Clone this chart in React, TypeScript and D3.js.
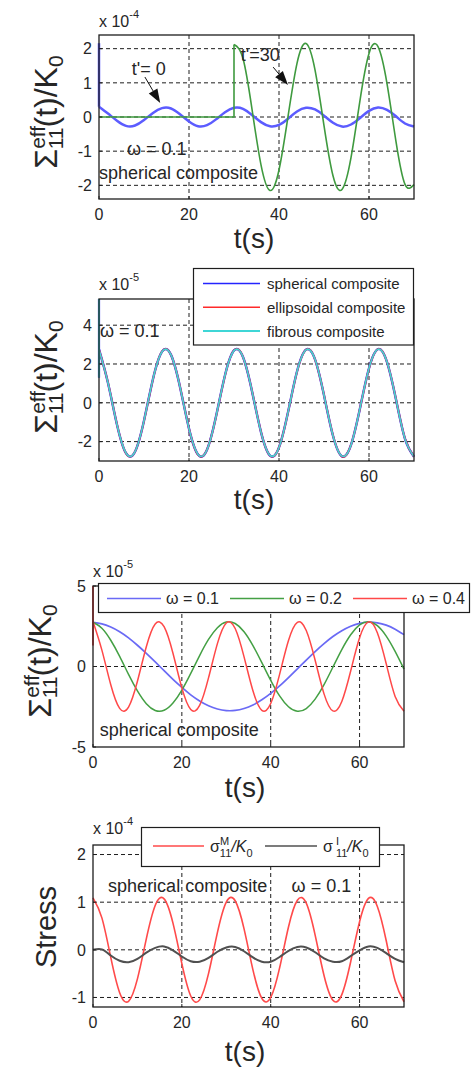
import React from 'react';
import * as d3 from 'd3';

const FONT = "'Liberation Sans', Arial, Helvetica, sans-serif";
const INK = '#262626';

// ---------- data ----------
const tSamples = [0, 2, 4, 6, 8, 10, 12, 14, 16, 18, 20, 22, 24, 26, 28, 30, 32, 34, 36, 38, 40, 42, 44, 46, 48, 50, 52, 54, 56, 58, 60, 62, 64, 66, 68, 70];
const tAfterLoad = [30, 32, 34, 36, 38, 40, 42, 44, 46, 48, 50, 52, 54, 56, 58, 60, 62, 64, 66, 68, 70];
const tSpike = [0, 0];

// Panel 1 (x 1e-4)
const p1LoadT0 = [0.30, 0.10, -0.11, -0.26, -0.25, -0.09, 0.12, 0.26, 0.25, 0.08, -0.13, -0.27, -0.24, -0.07, 0.14, 0.27, 0.24, 0.06, -0.15, -0.27, -0.23, -0.05, 0.16, 0.27, 0.22, 0.04, -0.17, -0.28, -0.22, -0.03, 0.18, 0.28, 0.21, 0.02, -0.19, -0.28];
const p1LoadT0Spike = [0.30, 2.16];
const p1LoadT30PreT = [0, 30, 30];
const p1LoadT30Pre = [0, 0, 2.12];
const p1LoadT30 = [2.12, 1.71, 0.23, -1.40, -2.15, -1.55, 0.01, 1.57, 2.15, 1.38, -0.25, -1.72, -2.12, -1.19, 0.49, 1.86, 2.06, 0.98, -0.72, -1.97, -1.98];
const p1XTicks = [0, 20, 40, 60];
const p1YTicks = [-2, -1, 0, 1, 2];

// Panel 2 (x 1e-5)
const p2Spherical = [2.75, 1.02, -1.13, -2.60, -2.52, -0.92, 1.23, 2.64, 2.47, 0.82, -1.33, -2.67, -2.42, -0.71, 1.42, 2.70, 2.36, 0.60, -1.51, -2.72, -2.30, -0.49, 1.61, 2.74, 2.24, 0.39, -1.70, -2.76, -2.17, -0.28, 1.78, 2.77, 2.10, 0.17, -1.86, -2.78];
const p2Ellipsoidal = [2.75, 1.03, -1.12, -2.60, -2.52, -0.93, 1.22, 2.64, 2.47, 0.83, -1.32, -2.67, -2.42, -0.72, 1.41, 2.70, 2.36, 0.61, -1.50, -2.72, -2.30, -0.50, 1.60, 2.74, 2.24, 0.40, -1.69, -2.76, -2.17, -0.29, 1.77, 2.77, 2.10, 0.18, -1.85, -2.78];
const p2Fibrous = [2.74, 1.02, -1.13, -2.59, -2.52, -0.92, 1.23, 2.63, 2.47, 0.82, -1.33, -2.66, -2.42, -0.71, 1.42, 2.69, 2.36, 0.60, -1.51, -2.71, -2.30, -0.49, 1.61, 2.73, 2.24, 0.39, -1.70, -2.75, -2.17, -0.28, 1.78, 2.76, 2.10, 0.17, -1.86, -2.77];
const p2Spike = [1.3, 5.35];
const p2Labels = ['spherical composite', 'ellipsoidal composite', 'fibrous composite'];
const p2YTicks = [-2, 0, 2, 4];

// Panel 3 (x 1e-5)
const p3Omega01 = [2.74, 2.65, 2.45, 2.16, 1.78, 1.32, 0.82, 0.29, -0.26, -0.80, -1.30, -1.76, -2.14, -2.44, -2.64, -2.74, -2.73, -2.61, -2.39, -2.07, -1.67, -1.21, -0.69, -0.15, 0.40, 0.93, 1.42, 1.86, 2.22, 2.50, 2.68, 2.75, 2.71, 2.57, 2.32, 1.98];
const p3Omega02 = [2.75, 2.38, 1.63, 0.63, -0.49, -1.52, -2.31, -2.73, -2.72, -2.27, -1.47, -0.43, 0.68, 1.68, 2.41, 2.76, 2.67, 2.16, 1.30, 0.24, -0.86, -1.83, -2.50, -2.78, -2.61, -2.03, -1.13, -0.04, 1.05, 1.97, 2.58, 2.78, 2.54, 1.89, 0.94, -0.16];
const p3Omega04 = [2.80, 1.02, -1.13, -2.60, -2.52, -0.92, 1.23, 2.64, 2.47, 0.82, -1.33, -2.67, -2.42, -0.71, 1.42, 2.70, 2.36, 0.60, -1.51, -2.72, -2.30, -0.49, 1.61, 2.74, 2.24, 0.39, -1.70, -2.76, -2.17, -0.28, 1.78, 2.77, 2.10, 0.17, -1.86, -2.78];
const p3Spike = [1.3, 5.0];
const p3Labels = ['ω = 0.1', 'ω = 0.2', 'ω = 0.4'];
const p3YTicks = [-5, 0, 5];

// Panel 4 (x 1e-4)
const p4SigmaM = [1.09, 0.67, -0.16, -0.90, -1.08, -0.61, 0.23, 0.93, 1.07, 0.56, -0.29, -0.97, -1.05, -0.50, 0.36, 1.00, 1.03, 0.44, -0.42, -1.02, -1.00, -0.38, 0.48, 1.04, 0.98, 0.31, -0.54, -1.06, -0.94, -0.25, 0.59, 1.08, 0.91, 0.19, -0.65, -1.09];
const p4SigmaI = [0.00, 0.01, -0.12, -0.23, -0.26, -0.19, -0.06, 0.04, 0.07, -0.01, -0.14, -0.24, -0.25, -0.17, -0.04, 0.05, 0.06, -0.03, -0.16, -0.25, -0.25, -0.15, -0.02, 0.06, 0.05, -0.05, -0.18, -0.25, -0.24, -0.13, -0.01, 0.07, 0.04, -0.07, -0.19, -0.26];
const p4YTicks = [-1, 0, 1, 2];

// ---------- styles ----------
const C = {
  blue1: '#5c5cff', green1: '#3f9a3f',
  blue2: '#2424ff', red2: '#ff2a2a', cyan2: '#3fd6d6',
  blue3: '#6a6af5', green3: '#44a044', red3: '#ff4848',
  red4: '#ff4a4a', black4: '#505050',
};

type Series = { t: number[]; v: number[]; color: string; width: number; linear?: boolean };
type Box = { l: number; r: number; t: number; b: number };

function Panel(props: {
  box: Box; xDomain: [number, number]; yDomain: [number, number];
  xTicks: number[]; yTicks: number[]; series: Series[];
  tickGap?: number;
  extra?: (x: d3.ScaleLinear<number, number>, y: d3.ScaleLinear<number, number>) => React.ReactNode;
}) {
  const { box, xDomain, yDomain, xTicks, yTicks, series, extra } = props;
  const x = d3.scaleLinear().domain(xDomain).range([box.l, box.r]);
  const y = d3.scaleLinear().domain(yDomain).range([box.b, box.t]);
  const inside = (v: number, d: [number, number]) => v > d[0] + 1e-9 && v < d[1] - 1e-9;
  const gridStyle = { stroke: '#1e1e1e', strokeWidth: 1, strokeDasharray: '4 3' };
  return (
    <g>
      {xTicks.filter(v => inside(v, xDomain)).map(v => (
        <line key={'gx' + v} x1={x(v)} x2={x(v)} y1={box.t} y2={box.b} {...gridStyle} />
      ))}
      {yTicks.filter(v => inside(v, yDomain)).map(v => (
        <line key={'gy' + v} x1={box.l} x2={box.r} y1={y(v)} y2={y(v)} {...gridStyle} />
      ))}
      {series.map((s, i) => {
        const gen = d3.line<number>()
          .x((_, j) => x(s.t[j]))
          .y(v => y(v))
          .curve(s.linear ? d3.curveLinear : d3.curveNatural);
        return <path key={i} d={gen(s.v) || ''} fill="none" stroke={s.color} strokeWidth={s.width} strokeLinejoin="round" />;
      })}
      <rect x={box.l} y={box.t} width={box.r - box.l} height={box.b - box.t} fill="none" stroke="#1e1e1e" strokeWidth={1.3} />
      {xTicks.map(v => (
        <g key={'tx' + v}>
          <line x1={x(v)} x2={x(v)} y1={box.b} y2={box.b - 3} stroke="#1e1e1e" />
          <text x={x(v)} y={box.b + 21} textAnchor="middle" fontSize={16} fontFamily={FONT} fill={INK}>{String(v)}</text>
        </g>
      ))}
      {yTicks.map(v => (
        <g key={'ty' + v}>
          <line x1={box.l} x2={box.l + 3} y1={y(v)} y2={y(v)} stroke="#1e1e1e" />
          <text x={box.l - 7} y={y(v)} dy="0.36em" textAnchor="end" fontSize={16} fontFamily={FONT} fill={INK}>{String(v)}</text>
        </g>
      ))}
      {extra && extra(x, y)}
    </g>
  );
}

function SigmaLabel({ x, y }: { x: number; y: number }) {
  return (
    <text transform={`translate(${x},${y}) rotate(-90)`} textAnchor="middle" fontSize={32} fontFamily={FONT} fill={INK}>
      Σ<tspan fontSize={21} dy={-12}>eff</tspan>
      <tspan fontSize={21} dx={-23.4} dy={18}>11</tspan>
      <tspan dy={-6}>(t)/K</tspan>
      <tspan fontSize={21} dy={6}>0</tspan>
    </text>
  );
}

function Multiplier({ x, y, exp }: { x: number; y: number; exp: string }) {
  return (
    <text x={x} y={y} fontSize={16} fontFamily={FONT} fill={INK}>
      x 10<tspan fontSize={11} dy={-9}>{exp}</tspan>
    </text>
  );
}

function TLabel({ x, y }: { x: number; y: number }) {
  return <text x={x} y={y} textAnchor="middle" fontSize={28} fontFamily={FONT} fill={INK}>t(s)</text>;
}

function Arrow({ x1, y1, x2, y2 }: { x1: number; y1: number; x2: number; y2: number }) {
  const ang = Math.atan2(y2 - y1, x2 - x1);
  const L = 14, W = 5;
  const bx = x2 - L * Math.cos(ang), by = y2 - L * Math.sin(ang);
  const px = -Math.sin(ang) * W, py = Math.cos(ang) * W;
  return (
    <g>
      <line x1={x1} y1={y1} x2={bx} y2={by} stroke="#111" strokeWidth={1} />
      <polygon points={`${x2},${y2} ${bx + px},${by + py} ${bx - px},${by - py}`} fill="#111" />
    </g>
  );
}

const p1Box: Box = { l: 99, r: 414, t: 35, b: 199 };
const p2Box: Box = { l: 99, r: 414, t: 299, b: 461 };
const p3Box: Box = { l: 93, r: 404, t: 586, b: 747 };
const p4Box: Box = { l: 93, r: 404, t: 845, b: 1007 };

export default function App() {
  const ann = { fontFamily: FONT, fill: INK, fontSize: 18 };
  return (
    <svg width={471} height={1068} style={{ position: 'absolute', left: 0, top: 0, background: '#fff' }}>
      <rect x={0} y={0} width={471} height={1068} fill="#fff" />

      {/* Panel 1 */}
      <Panel box={p1Box} xDomain={[0, 70]} yDomain={[-2.4, 2.4]} xTicks={p1XTicks} yTicks={p1YTicks}
        series={[
          { t: tSpike, v: p1LoadT0Spike, color: C.blue1, width: 2.5, linear: true },
          { t: tSamples, v: p1LoadT0, color: C.blue1, width: 2.5 },
          { t: p1LoadT30PreT, v: p1LoadT30Pre, color: C.green1, width: 1.6, linear: true },
          { t: tAfterLoad, v: p1LoadT30, color: C.green1, width: 1.6 },
        ]}
        extra={(x, y) => (
          <g>
            <text x={x(7.3)} y={y(1.23)} {...ann}>t'= 0</text>
            <Arrow x1={x(10.2)} y1={y(1.17)} x2={x(13.6)} y2={y(0.41)} />
            <text x={x(31.5)} y={y(1.64)} {...ann}>t'=30</text>
            <Arrow x1={x(38.7)} y1={y(1.46)} x2={x(42.0)} y2={y(0.94)} />
            <text x={x(6.2)} y={y(-1.1)} {...ann}>ω = 0.1</text>
            <text x={x(0)} y={y(-1.8)} {...ann}>spherical composite</text>
          </g>
        )}
      />
      <Multiplier x={99} y={27} exp="-4" />
      <SigmaLabel x={57} y={112} />
      <TLabel x={254} y={248} />

      {/* Panel 2 */}
      <Panel box={p2Box} xDomain={[0, 70]} yDomain={[-3.0, 5.35]} xTicks={p1XTicks} yTicks={p2YTicks}
        series={[
          { t: tSpike, v: p2Spike, color: C.blue2, width: 2.2, linear: true },
          { t: tSamples, v: p2Spherical, color: C.blue2, width: 2.4 },
          { t: tSamples, v: p2Ellipsoidal, color: C.red2, width: 1.9 },
          { t: tSpike, v: p2Spike, color: C.cyan2, width: 1.8, linear: true },
          { t: tSamples, v: p2Fibrous, color: C.cyan2, width: 1.6 },
        ]}
        extra={(x, y) => (
          <text x={x(0.2)} y={y(3.4)} {...ann}>ω = 0.1</text>
        )}
      />
      <Multiplier x={99} y={290} exp="-5" />
      <SigmaLabel x={57} y={377} />
      <TLabel x={254} y={509} />
      <g>
        <rect x={193.5} y={268.5} width={220} height={76.5} fill="#fff" stroke="#1e1e1e" strokeWidth={1.2} />
        {p2Labels.map((lab, i) => {
          const cy = 283.5 + i * 23.8;
          const col = [C.blue2, C.red2, C.cyan2][i];
          return (
            <g key={lab}>
              <line x1={203} x2={260} y1={cy} y2={cy} stroke={col} strokeWidth={i === 2 ? 2 : 1.6} />
              <text x={267} y={cy + 5.5} fontSize={15} fontFamily={FONT} fill={INK}>{lab}</text>
            </g>
          );
        })}
      </g>

      {/* Panel 3 */}
      <Panel box={p3Box} xDomain={[0, 70]} yDomain={[-5, 5]} xTicks={p1XTicks} yTicks={p3YTicks}
        series={[
          { t: tSamples, v: p3Omega01, color: C.blue3, width: 1.7 },
          { t: tSamples, v: p3Omega02, color: C.green3, width: 1.5 },
          { t: tSpike, v: p3Spike, color: C.red3, width: 1.8, linear: true },
          { t: tSamples, v: p3Omega04, color: C.red3, width: 1.5 },
        ]}
        extra={(x, y) => (
          <text x={x(1.5)} y={y(-4.3)} {...ann}>spherical composite</text>
        )}
      />
      <Multiplier x={93} y={577} exp="-5" />
      <SigmaLabel x={51} y={661} />
      <TLabel x={245} y={797} />
      <g>
        <rect x={98.5} y={583.5} width={371} height={29} fill="#fff" stroke="#1e1e1e" strokeWidth={1.2} />
        {p3Labels.map((lab, i) => {
          const lx = [107, 230, 353][i];
          const col = [C.blue3, C.green3, C.red3][i];
          return (
            <g key={lab}>
              <line x1={lx} x2={lx + 54} y1={598.5} y2={598.5} stroke={col} strokeWidth={1.6} />
              <text x={lx + 59} y={604} fontSize={16} fontFamily={FONT} fill={INK}>{lab}</text>
            </g>
          );
        })}
      </g>

      {/* Panel 4 */}
      <Panel box={p4Box} xDomain={[0, 70]} yDomain={[-1.2, 2.2]} xTicks={p1XTicks} yTicks={p4YTicks}
        series={[
          { t: tSamples, v: p4SigmaM, color: C.red4, width: 1.6 },
          { t: tSamples, v: p4SigmaI, color: C.black4, width: 2 },
        ]}
        extra={(x, y) => (
          <g>
            <text x={x(3.4)} y={y(1.22)} {...ann}>spherical composite</text>
            <text x={x(44.7)} y={y(1.22)} {...ann}>ω = 0.1</text>
          </g>
        )}
      />
      <Multiplier x={93} y={834} exp="-4" />
      <text transform="translate(56,927) rotate(-90)" textAnchor="middle" fontSize={29} fontFamily={FONT} fill={INK}>Stress</text>
      <TLabel x={245} y={1061} />
      <g>
        <rect x={141.5} y={827.5} width={238} height={39} fill="#fff" stroke="#1e1e1e" strokeWidth={1.2} />
        <line x1={153} x2={204} y1={846} y2={846} stroke={C.red4} strokeWidth={1.6} />
        <text x={210} y={852} fontSize={16} fontFamily={FONT} fill={INK}>
          σ<tspan fontSize={11} dy={-7}>M</tspan>
          <tspan fontSize={11} dx={-9.2} dy={12}>11</tspan>
          <tspan dy={-5} fontStyle="italic">/K</tspan>
          <tspan fontSize={11} dy={5}>0</tspan>
        </text>
        <line x1={265} x2={317} y1={846} y2={846} stroke={C.black4} strokeWidth={1.6} />
        <text x={323} y={852} fontSize={16} fontFamily={FONT} fill={INK}>
          σ<tspan fontSize={11} dx={3} dy={-7}>I</tspan>
          <tspan fontSize={11} dx={-3} dy={12}>11</tspan>
          <tspan dy={-5} fontStyle="italic">/K</tspan>
          <tspan fontSize={11} dy={5}>0</tspan>
        </text>
      </g>
    </svg>
  );
}
